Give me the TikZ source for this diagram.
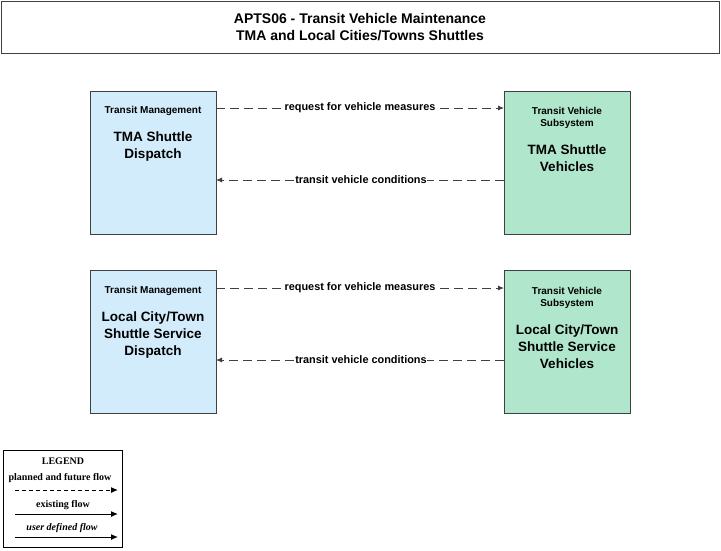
\documentclass[tikz,border=0pt]{standalone}
\usepackage{fontspec}
\setmainfont{Liberation Sans}
\newfontfamily\legfont{Liberation Serif}
\usetikzlibrary{arrows.meta}
\definecolor{mgmtblue}{HTML}{D2ECFB}
\definecolor{vehgreen}{HTML}{B0E6CC}
\definecolor{edgegray}{HTML}{404040}
\tikzset{
  sysbox/.style={draw=edgegray, line width=0.9pt, minimum width=126pt, minimum height=143pt, anchor=north west, inner sep=0pt},
  smalltxt/.style={font=\fontsize{10}{12}\selectfont\bfseries, align=center, inner sep=0pt},
  bigtxt/.style={font=\fontsize{13.5}{17}\selectfont\bfseries, align=center, inner sep=0pt},
  flow/.style={draw=edgegray, dash pattern=on 9pt off 5pt, line width=0.8pt, -{Latex[length=6pt,width=5pt]}},
  flowlab/.style={fill=white, font=\fontsize{10.9}{12}\selectfont\bfseries, inner sep=0.5pt},
  legtxt/.style={font=\legfont\fontsize{10}{11}\selectfont\bfseries, inner sep=0pt},
}
\begin{document}
\begin{tikzpicture}[x=1pt,y=-1pt]
\useasboundingbox (0,0) rectangle (721,550);
% title
\node[draw=edgegray, line width=0.9pt, minimum width=718pt, minimum height=52pt, anchor=north west, inner sep=0pt] (title) at (1,1) {};
\node[font=\fontsize{14}{17}\selectfont\bfseries, align=center, inner sep=0pt] (titletxt) at (360,27) {APTS06 - Transit Vehicle Maintenance\\TMA and Local Cities/Towns Shuttles};
% boxes
\node[sysbox, fill=mgmtblue] (b1) at (90,91) {};
\node[sysbox, fill=vehgreen] (b2) at (504,91) {};
\node[sysbox, fill=mgmtblue] (b3) at (90,270) {};
\node[sysbox, fill=vehgreen] (b4) at (504,270) {};
% box texts
\node[smalltxt] (b1a) at (153,111) {Transit Management};
\node[bigtxt] (b1b) at (153,146.5) {TMA Shuttle\\Dispatch};
\node[smalltxt] (b2a) at (567,118) {Transit Vehicle\\Subsystem};
\node[bigtxt] (b2b) at (567,158.5) {TMA Shuttle\\Vehicles};
\node[smalltxt] (b3a) at (153,291) {Transit Management};
\node[bigtxt] (b3b) at (153,335) {Local City/Town\\Shuttle Service\\Dispatch};
\node[smalltxt] (b4a) at (567,298) {Transit Vehicle\\Subsystem};
\node[bigtxt] (b4b) at (567,347) {Local City/Town\\Shuttle Service\\Vehicles};
% flows
\coordinate (p1s) at (216,108); \coordinate (p1e) at (504,108);
\coordinate (p2s) at (504,180); \coordinate (p2e) at (216,180);
\coordinate (p3s) at (216,288); \coordinate (p3e) at (504,288);
\coordinate (p4s) at (504,360); \coordinate (p4e) at (216,360);
\draw[flow] (p1s) -- (p1e);
\draw[flow] (p2s) -- (p2e);
\draw[flow] (p3s) -- (p3e);
\draw[flow] (p4s) -- (p4e);
\node[flowlab] (l1) at (360,108) {request for vehicle measures};
\node[flowlab] (l2) at (361,180) {transit vehicle conditions};
\node[flowlab] (l3) at (360,288) {request for vehicle measures};
\node[flowlab] (l4) at (361,360) {transit vehicle conditions};
% legend
\node[draw=black, line width=0.9pt, minimum width=119pt, minimum height=97pt, anchor=north west, inner sep=0pt] (leg) at (3,450) {};
\node[legtxt] (legt) at (63,461) {LEGEND};
\node[legtxt] (leg1) at (60,478) {planned and future flow};
\node[legtxt] (leg2) at (63,505) {existing flow};
\node[legtxt, font=\legfont\fontsize{10}{11}\selectfont\bfseries\itshape] (leg3) at (62,528) {user defined flow};
\coordinate (a1s) at (15,490); \coordinate (a1e) at (118,490);
\coordinate (a2s) at (15,514); \coordinate (a2e) at (118,514);
\coordinate (a3s) at (15,537); \coordinate (a3e) at (118,537);
\draw[line width=1pt, dash pattern=on 4pt off 3pt, -{Latex[length=7pt,width=6pt]}] (a1s) -- (a1e);
\draw[line width=1pt, -{Latex[length=7pt,width=6pt]}] (a2s) -- (a2e);
\draw[line width=1pt, -{Latex[length=7pt,width=6pt]}] (a3s) -- (a3e);
\end{tikzpicture}
\end{document}
